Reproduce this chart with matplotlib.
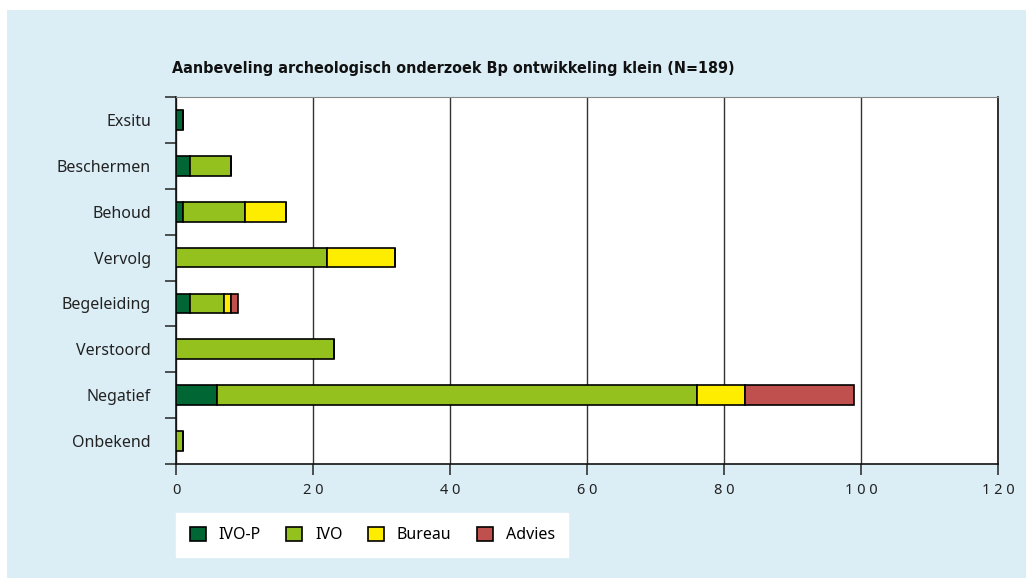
import matplotlib
matplotlib.use("Agg")
import matplotlib.pyplot as plt
from matplotlib.patches import Rectangle
import numpy as np

categories = ["Exsitu", "Beschermen", "Behoud", "Vervolg", "Begeleiding", "Verstoord", "Negatief", "Onbekend"]
ivo_p = [1, 2, 1, 0, 2, 0, 6, 0]
ivo = [0, 6, 9, 22, 5, 23, 70, 1]
bureau = [0, 0, 6, 10, 1, 0, 7, 0]
advies = [0, 0, 0, 0, 1, 0, 16, 0]
series_names = ["IVO-P", "IVO", "Bureau", "Advies"]
colors = ["#006633", "#95c11f", "#ffed00", "#c0504d"]
xticks = [0, 20, 40, 60, 80, 100, 120]
title = "Aanbeveling archeologisch onderzoek Bp ontwikkeling klein (N=189)"

plt.rcParams["font.family"] = ["Noto Sans", "DejaVu Sans"]

bg = "#dbeef6"
fig = plt.figure(figsize=(10.26, 5.78), dpi=100)
fig.patch.set_facecolor(bg)
# white margins at top and left
fig.patches.append(Rectangle((0, 1 - 10/578), 1, 10/578, transform=fig.transFigure,
                             facecolor="white", edgecolor="none", zorder=-10))
fig.patches.append(Rectangle((0, 0), 7/1026, 1, transform=fig.transFigure,
                             facecolor="white", edgecolor="none", zorder=-10))

ax = fig.add_axes([176/1026, 1 - 464/578, (998 - 176)/1026, (464 - 97)/578])
ax.set_facecolor("white")
y = np.arange(len(categories))
left = np.zeros(len(categories))
for vals, name, c in zip([ivo_p, ivo, bureau, advies], series_names, colors):
    v = np.array(vals, dtype=float)
    ax.barh(y, v, left=left, height=0.43, color=c, edgecolor="black", linewidth=1.2,
            label=name, zorder=3)
    left += v

ax.set_ylim(len(categories) - 0.5, -0.5)
ax.set_xlim(0, 120)
ax.set_xticks(xticks)
ax.set_xticklabels([" ".join(str(t)) for t in xticks], fontsize=10.5, color="#222222")
ax.set_yticks(y)
ax.set_yticklabels(categories, fontsize=11.5, color="#222222")
ax.set_yticks(np.arange(-0.5, len(categories), 1), minor=True)
ax.tick_params(axis="y", which="major", length=0, pad=18)
ax.tick_params(axis="y", which="minor", length=8, width=1.2, color="#333333", direction="out")
ax.tick_params(axis="x", which="major", length=8, width=1.2, color="#333333", direction="out", pad=6)
ax.xaxis.grid(True, color="#333333", linewidth=1.0, zorder=1)
ax.set_axisbelow(True)
for s in ["left", "bottom", "right"]:
    ax.spines[s].set_color("#111111")
    ax.spines[s].set_linewidth(1.2)
ax.spines["top"].set_color("#888888")
ax.spines["top"].set_linewidth(0.8)

fig.text(172/1026, 1 - 68/578, title, fontsize=11.5, fontweight="bold", ha="left", va="center",
         family="DejaVu Sans", fontstretch="condensed", color="#111111")

leg = fig.legend(loc="lower left", bbox_to_anchor=(176/1026, 1 - 557/578), ncol=4,
                 frameon=True, fontsize=11.5, handlelength=1.0, handleheight=1.0,
                 columnspacing=1.6, handletextpad=0.8, borderpad=0.85, borderaxespad=0,
                 fancybox=False, framealpha=1)
leg.get_frame().set_facecolor("white")
leg.get_frame().set_edgecolor("white")

fig.savefig("out.png", dpi=100, facecolor=fig.get_facecolor())
